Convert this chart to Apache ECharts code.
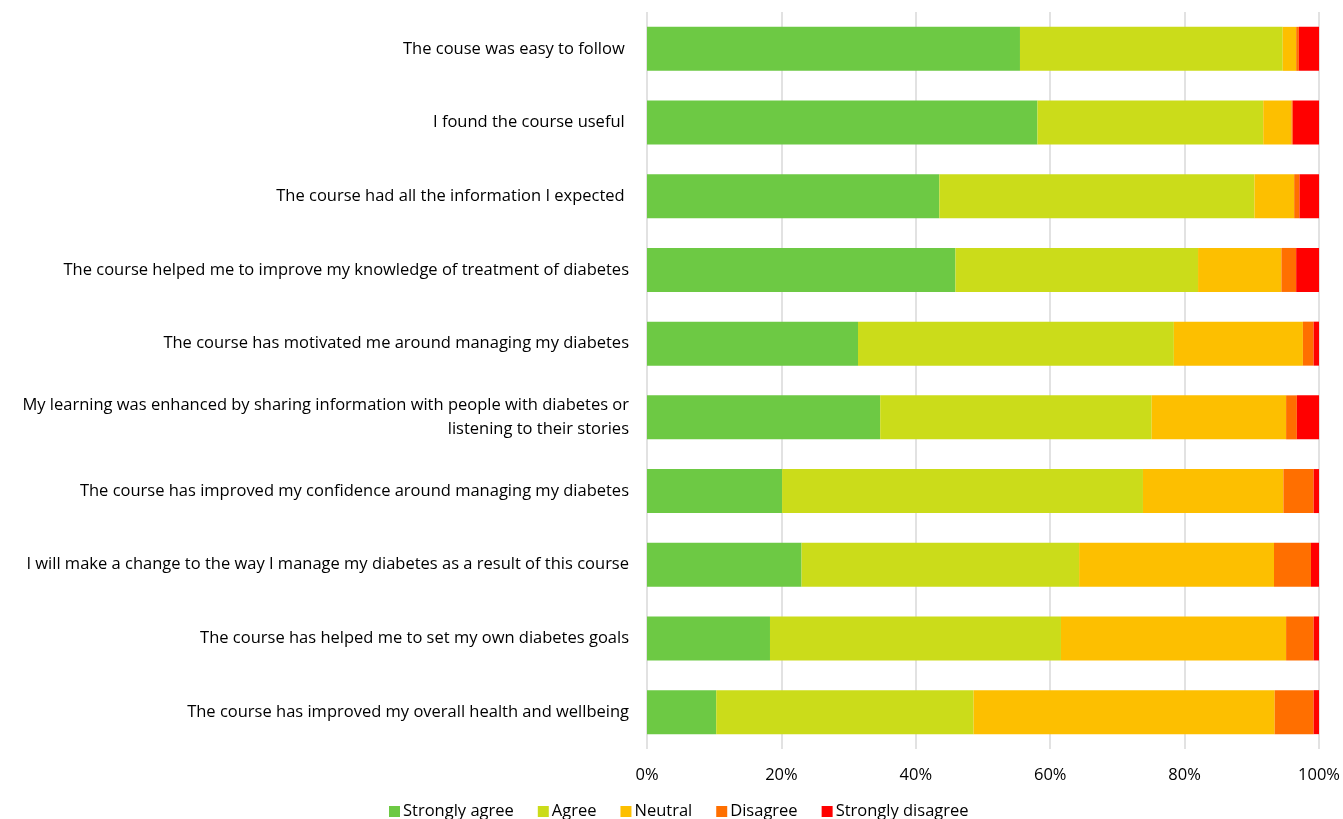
<!DOCTYPE html>
<html><head><meta charset="utf-8">
<script src="https://cdn.jsdelivr.net/npm/echarts@6/dist/echarts.min.js"></script>
<style>html,body{margin:0;padding:0;background:#fff}#c{width:1343px;height:819px}</style>
</head><body><div id="c"></div>
<script>
const categories = [
  "The couse was easy to follow ",
  "I found the course useful ",
  "The course had all the information I expected ",
  "The course helped me to improve my knowledge of treatment of diabetes",
  "The course has motivated me around managing my diabetes",
  "My learning was enhanced by sharing information with people with diabetes or\nlistening to their stories",
  "The course has improved my confidence around managing my diabetes",
  "I will make a change to the way I manage my diabetes as a result of this course",
  "The course has helped me to set my own diabetes goals",
  "The course has improved my overall health and wellbeing"
];
const seriesNames = ["Strongly agree", "Agree", "Neutral", "Disagree", "Strongly disagree"];
const stronglyAgree = [55.5, 58.1, 43.5, 45.9, 31.4, 34.7, 20.1, 23.0, 18.3, 10.3];
const agree         = [39.1, 33.6, 46.9, 36.1, 47.0, 40.4, 53.7, 41.3, 43.3, 38.3];
const neutral       = [2.0, 4.2, 5.9, 12.4, 19.2, 20.0, 20.9, 29.0, 33.5, 44.8];
const disagree      = [0.4, 0.2, 0.8, 2.2, 1.6, 1.6, 4.5, 5.5, 4.1, 5.8];
const stronglyDisagree = [3.0, 3.9, 2.9, 3.4, 0.8, 3.3, 0.8, 1.2, 0.8, 0.8];
const xTicks = [0, 20, 40, 60, 80, 100];
const colors = ["#6DC944", "#CBDC1A", "#FDBF00", "#FF6F00", "#FF0000"];

const values = [stronglyAgree, agree, neutral, disagree, stronglyDisagree];
const chart = echarts.init(document.getElementById('c'), null, {renderer: 'canvas'});
const font = "'Open Sans', 'Liberation Sans', sans-serif";
chart.setOption({
  animation: false,
  textStyle: {fontFamily: font},
  grid: {left: 647, right: 22, top: 12, bottom: 70, containLabel: false},
  legend: {
    bottom: -6, left: 384, itemWidth: 11, itemHeight: 11, itemGap: 24,
    icon: 'rect',
    textStyle: {fontSize: 16.5, color: '#000', fontFamily: font, padding: [0,0,0,-2]},
    data: seriesNames
  },
  xAxis: {
    type: 'value', min: xTicks[0], max: xTicks[xTicks.length-1], interval: 20,
    axisLine: {show: false}, axisTick: {show: false},
    axisLabel: {formatter: v => v + '%', fontSize: 16.5, color: '#000', margin: 18, fontFamily: font},
    splitLine: {show: true, lineStyle: {color: '#D9D9D9', width: 1.5}}
  },
  yAxis: {
    type: 'category', data: categories, inverse: true,
    axisLine: {show: false}, axisTick: {show: false},
    axisLabel: {fontSize: 16.5, color: '#000', margin: 18, align: 'right', lineHeight: 24, fontFamily: font},
    splitLine: {show: false}
  },
  series: seriesNames.map((n, i) => ({
    name: n, type: 'bar', stack: 'total', barWidth: 44,
    itemStyle: {color: colors[i]},
    data: values[i]
  }))
});
</script></body></html>
